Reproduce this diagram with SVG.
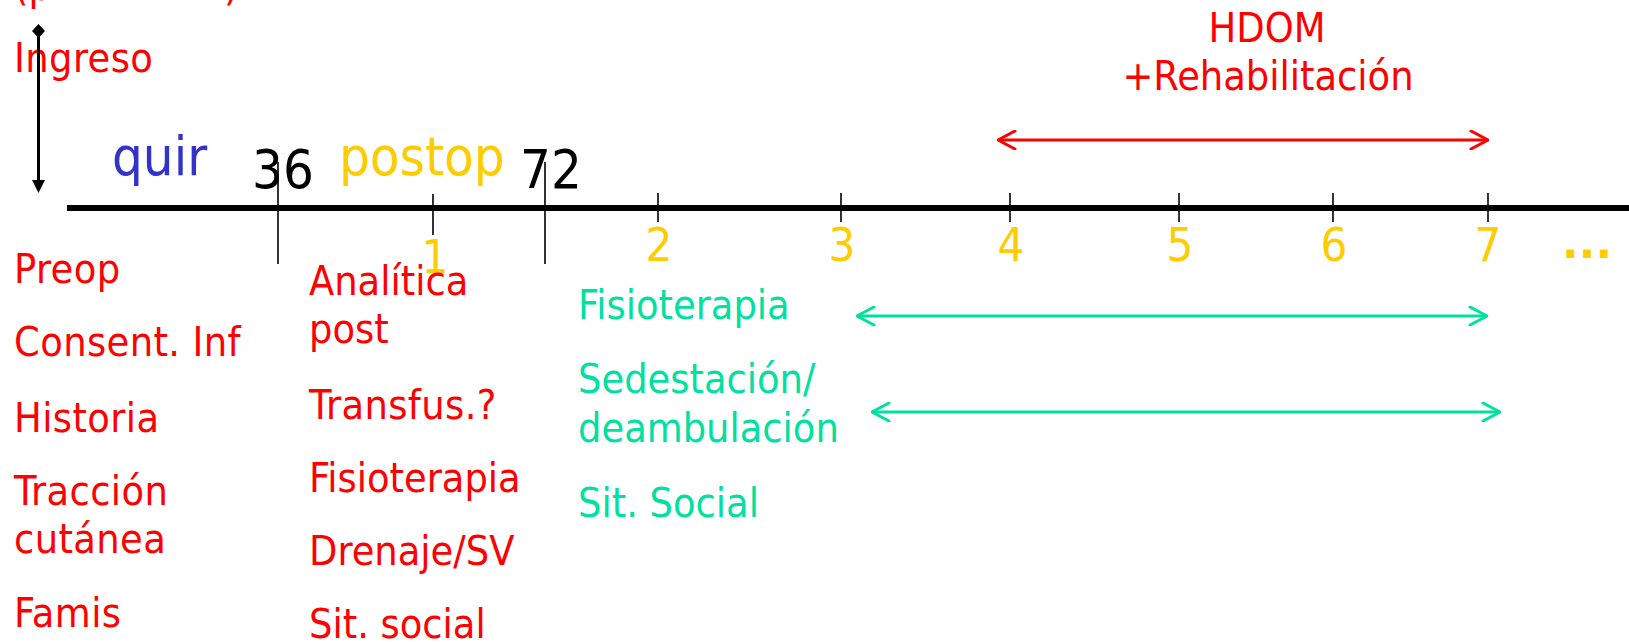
<svg xmlns="http://www.w3.org/2000/svg" width="1629" height="642" viewBox="0 0 1629 642">
<style>
text{font-family:"DejaVu Sans Condensed","DejaVu Sans",sans-serif;}
.r{fill:#ff0000;font-size:41px;}
.rl{letter-spacing:0.4px;}
.g{fill:#00e0a0;font-size:41px;}
.y{fill:#ffcc00;}
.big{font-size:54px;}
.num{font-size:47px;text-anchor:middle;}
.tick{stroke:#000;stroke-width:1.6;}
</style>
<defs>
<marker id="ar" viewBox="0 0 20 20" refX="19" refY="10" markerWidth="20" markerHeight="20" markerUnits="userSpaceOnUse" orient="auto-start-reverse">
<path d="M2,1 L19,10 L2,19" fill="none" stroke="#ff0000" stroke-width="3" stroke-linecap="round" stroke-linejoin="round"/>
</marker>
<marker id="ag" viewBox="0 0 20 20" refX="19" refY="10" markerWidth="20" markerHeight="20" markerUnits="userSpaceOnUse" orient="auto-start-reverse">
<path d="M2,1 L19,10 L2,19" fill="none" stroke="#00e0a0" stroke-width="3" stroke-linecap="round" stroke-linejoin="round"/>
</marker>
</defs>

<g id="axis">
<line x1="67" y1="208" x2="1629" y2="208" stroke="#000" stroke-width="6"/>
<line class="tick" x1="278" y1="162" x2="278" y2="264"/>
<line class="tick" x1="433" y1="194" x2="433" y2="235"/>
<line class="tick" x1="545" y1="162" x2="545" y2="264"/>
<line class="tick" x1="658" y1="193" x2="658" y2="222"/>
<line class="tick" x1="841" y1="193" x2="841" y2="222"/>
<line class="tick" x1="1010" y1="193" x2="1010" y2="222"/>
<line class="tick" x1="1179" y1="193" x2="1179" y2="222"/>
<line class="tick" x1="1333" y1="193" x2="1333" y2="222"/>
<line class="tick" x1="1488" y1="193" x2="1488" y2="222"/>
</g>

<g id="axis-labels">
<text x="112" y="175" class="big" fill="#3333cc">quir</text>
<text x="252" y="188" class="big" fill="#000">36</text>
<text x="339" y="175" class="big y">postop</text>
<text x="520" y="188" class="big" fill="#000">72</text>
<text x="435" y="273" class="num y">1</text>
<text x="659" y="261" class="num y">2</text>
<text x="842" y="261" class="num y">3</text>
<text x="1011" y="261" class="num y">4</text>
<text x="1180" y="261" class="num y">5</text>
<text x="1334" y="261" class="num y">6</text>
<text x="1488" y="261" class="num y">7</text>
<text x="1562" y="258" class="y" font-size="44" font-weight="bold" style="font-family:'DejaVu Sans',sans-serif">...</text>
</g>

<g id="ingreso">
<text x="14" y="0" class="r">(p</text>
<text x="224" y="0" class="r">)</text>
<text x="14" y="72" class="r rl">Ingreso</text>
</g>

<g id="hdom">
<text x="1267" y="42" class="r" text-anchor="middle">HDOM</text>
<text x="1268" y="90" class="r" text-anchor="middle">+Rehabilitación</text>
</g>

<g id="preop">
<text x="14" y="283" class="r rl">Preop</text>
<text x="14" y="356" class="r rl">Consent. Inf</text>
<text x="14" y="432" class="r rl">Historia</text>
<text x="14" y="505" class="r rl">Tracción</text>
<text x="14" y="553" class="r rl">cutánea</text>
<text x="14" y="627" class="r rl">Famis</text>
</g>

<g id="postop-tasks">
<text x="309" y="295" class="r">Analítica</text>
<text x="309" y="343" class="r">post</text>
<text x="309" y="419" class="r rl">Transfus.?</text>
<text x="309" y="492" class="r">Fisioterapia</text>
<text x="309" y="565" class="r">Drenaje/SV</text>
<text x="309" y="638" class="r">Sit. social</text>
</g>

<g id="later-tasks">
<text x="578" y="319" class="g">Fisioterapia</text>
<text x="578" y="393" class="g">Sedestación/</text>
<text x="578" y="442" class="g">deambulación</text>
<text x="578" y="517" class="g">Sit. Social</text>
</g>

<g id="connectors">
<line x1="38.5" y1="31" x2="38.5" y2="182" stroke="#000" stroke-width="3"/>
<path d="M38.5,24 L45,31 L38.5,38 L32,31 Z" fill="#000"/>
<path d="M32,180 L45,180 L38.5,193 Z" fill="#000"/>
<line x1="998" y1="140" x2="1488" y2="140" stroke="#ff0000" stroke-width="3" marker-start="url(#ar)" marker-end="url(#ar)"/>
<line x1="857" y1="316" x2="1487" y2="316" stroke="#00e0a0" stroke-width="3" marker-start="url(#ag)" marker-end="url(#ag)"/>
<line x1="872" y1="412" x2="1500" y2="412" stroke="#00e0a0" stroke-width="3" marker-start="url(#ag)" marker-end="url(#ag)"/>
</g>
</svg>
